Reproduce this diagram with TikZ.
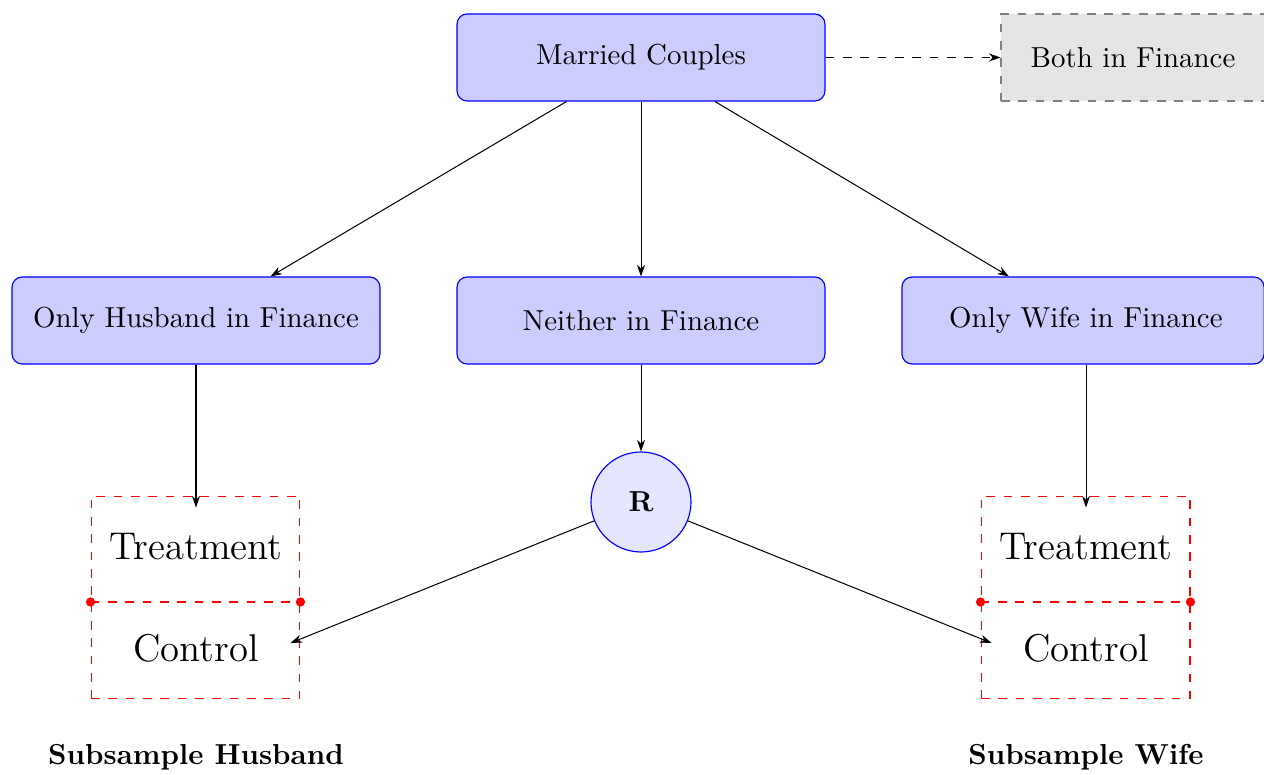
\documentclass[tikz,border=0pt]{standalone}
\usetikzlibrary{arrows.meta}
\begin{document}
\begin{tikzpicture}[x=0.346pt,y=-0.346pt,
  bluebox/.style={draw=blue,fill=blue!20,rounded corners=3.5pt,minimum width=127.3pt,minimum height=30.1pt,inner sep=0pt,line width=0.4pt},
  graybox/.style={draw=gray,fill=gray!20,dashed,minimum width=91.3pt,minimum height=30.1pt,inner sep=0pt},
  rcircle/.style={circle,draw=blue,fill=blue!10,minimum size=34.6pt,inner sep=0pt,font=\bfseries},
  groupbox/.style={draw=red,dashed,line width=0.35pt,minimum width=72.3pt,minimum height=70.2pt,inner sep=0pt},
  grouptext/.style={font=\fontsize{13.4}{16}\selectfont,inner sep=0pt},
  conn/.style={-{Stealth[length=4pt,width=2.8pt]},line width=0.35pt},
  reddot/.style={fill=red},
  sublabel/.style={font=\bfseries,inner sep=0pt}]
\useasboundingbox (0,0) rectangle (1264,775);

\node[bluebox] (married) at (641,57.5) {Married Couples};
\node[graybox] (both) at (1133,57.5) {Both in Finance};
\node[bluebox] (husb) at (196,320.5) {Only Husband in Finance};
\node[bluebox] (neither) at (641,320.5) {Neither in Finance};
\node[bluebox,minimum width=125.3pt] (wife) at (1083,320.5) {\hspace{2pt}Only Wife in Finance};
\node[rcircle] (R) at (641,502) {R};

\node[groupbox] (gL) at (195.5,597.5) {};
\node[groupbox] (gR) at (1085.5,597.5) {};
\coordinate (divL) at (196,602);
\coordinate (divR) at (1086,602);

\node[grouptext,minimum height=26.6pt] (treatL) at (196,546.5) {Treatment};
\node[grouptext,minimum width=65pt] (ctrlL) at (196,648.5) {Control};
\node[grouptext,minimum height=26.6pt] (treatR) at (1086,546.5) {Treatment};
\node[grouptext,minimum width=65pt] (ctrlR) at (1086,648.5) {Control};

\draw[red,dashed,line width=0.35pt] (gL.west |- divL) -- (gL.east |- divL);
\draw[red,dashed,line width=0.35pt] (gR.west |- divR) -- (gR.east |- divR);
\fill[reddot] (gL.west |- divL) circle (1.6pt);
\fill[reddot] (gL.east |- divL) circle (1.6pt);
\fill[reddot] (gR.west |- divR) circle (1.6pt);
\fill[reddot] (gR.east |- divR) circle (1.6pt);

\node[sublabel] (subH) at (196,757) {Subsample Husband};
\node[sublabel] (subW) at (1086,757) {Subsample Wife};

\draw[conn,dashed] (married) -- (both);
\draw[conn] (married) -- (husb);
\draw[conn] (married) -- (neither);
\draw[conn] (married) -- (wife);
\draw[conn] (neither) -- (R);
\draw[conn] (husb.south) -- (treatL.north);
\draw[conn] (wife.south -| treatR) -- (treatR.north);
\draw[conn] (R) -- ([yshift=1.9pt]ctrlL.east);
\draw[conn] (R) -- ([yshift=1.9pt]ctrlR.west);
\end{tikzpicture}
\end{document}
